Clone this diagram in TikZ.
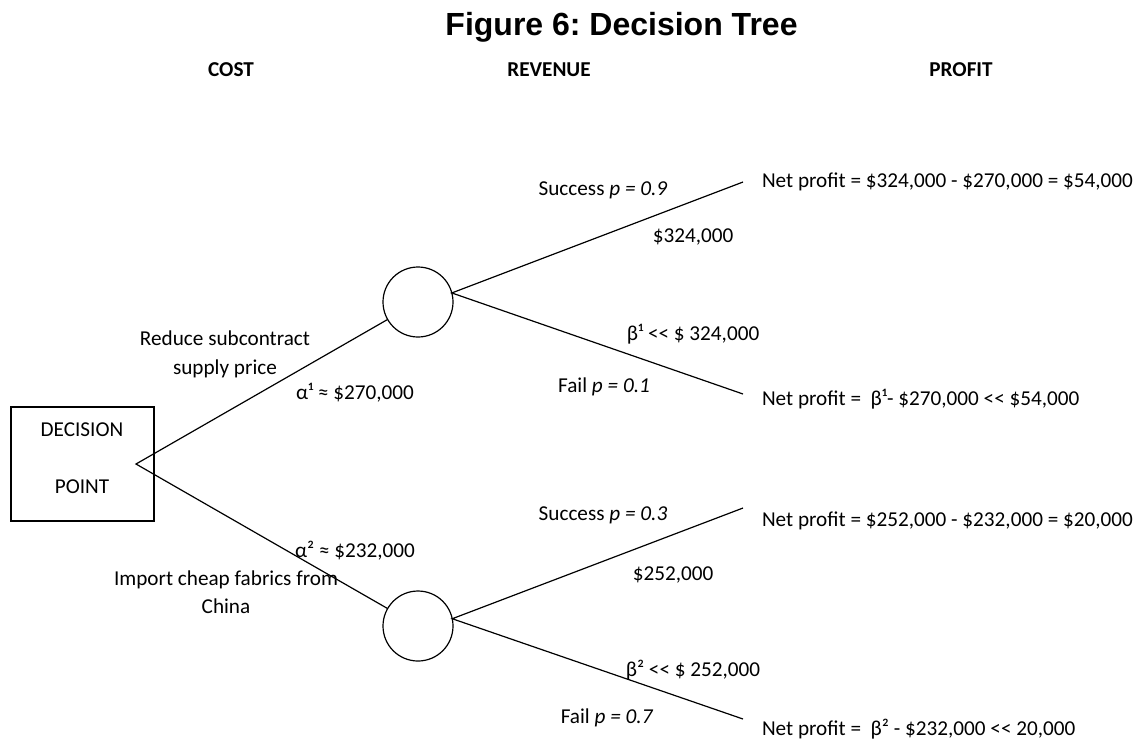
\documentclass[tikz,border=0pt]{standalone}
\usepackage{fontspec}
\setmainfont{Carlito}
\newfontfamily\titlefont{Liberation Sans}
\newcommand{\mlt}{<\kern0pt<}
\begin{document}
\frenchspacing
\begin{tikzpicture}[x=1pt,y=-1pt,
  every node/.style={inner sep=0pt,outer sep=0pt},
  txt/.style={font=\fontsize{21.2}{25}\selectfont,anchor=base},
  lft/.style={txt,anchor=base west},
  head/.style={font=\fontsize{21.2}{25}\selectfont\bfseries,anchor=base},
  chance/.style={draw,circle,line width=1.2pt,minimum size=70pt},
  branch/.style={line width=1.2pt},
  decbox/.style={draw,line width=1.2pt,minimum width=143pt,minimum height=114pt}]
\useasboundingbox (0,0) rectangle (1139,740);

% title and column headers
\node[font=\titlefont\bfseries\fontsize{32}{36}\selectfont,anchor=base] (title) at (621.5,35) {Figure 6: Decision Tree};
\node[head] (hcost) at (231,76) {COST};
\node[head] (hrev) at (549,76) {REVENUE};
\node[head] (hprof) at (961,76) {PROFIT};

% decision point and chance nodes
\node[decbox] (dec) at (82.5,464) {};
\node[txt] (dect1) at (82,436) {DECISION};
\node[txt] (dect2) at (82,493) {POINT};
\coordinate (apex) at (136,464);
\node[chance] (c1) at (418,302) {};
\node[chance] (c2) at (418,626) {};

% outcome end points
\coordinate (e1) at (743,182);
\coordinate (e2) at (743,394);
\coordinate (e3) at (743,508);
\coordinate (e4) at (743,719);

% branches
\draw[branch] (c1) -- (apex) -- (c2);
\draw[branch] (e1) -- (c1.15) -- (e2);
\draw[branch] (e3) -- (c2.12) -- (e4);

% decision labels
\node[txt] (l1a) at (225,345) {Reduce subcontract};
\node[txt] (l1b) at (225,374) {supply price};
\node[txt] (l1c) at (355,399) {α¹ ≈ \$270,000};
\node[txt] (l2c) at (355,557) {α² ≈ \$232,000};
\node[txt] (l2a) at (226,585) {Import cheap fabrics from};
\node[txt] (l2b) at (226,613) {China};

% outcome labels
\node[txt] (s1) at (603,195) {Success \textit{p = 0.9}};
\node[txt] (r1) at (693,242) {\$324,000};
\node[txt] (b1) at (693,340) {β¹ \mlt{} \$ 324,000};
\node[txt] (f1) at (604,392) {Fail \textit{p = 0.1}};
\node[txt] (s2) at (603,520) {Success \textit{p = 0.3}};
\node[txt] (r2) at (673,580) {\$252,000};
\node[txt] (b2) at (693,676) {β² \mlt{} \$ 252,000};
\node[txt] (f2) at (607,723) {Fail \textit{p = 0.7}};

% profit column
\node[lft] (p1) at (762,187) {Net profit = \$324,000 - \$270,000 = \$54,000};
\node[lft] (p2) at (762,405) {Net profit =\ \ β¹- \$270,000 \mlt{} \$54,000};
\node[lft] (p3) at (762,526) {Net profit = \$252,000 - \$232,000 = \$20,000};
\node[lft] (p4) at (762,735) {Net profit =\ \ β² - \$232,000 \mlt{} 20,000};
\end{tikzpicture}
\end{document}
